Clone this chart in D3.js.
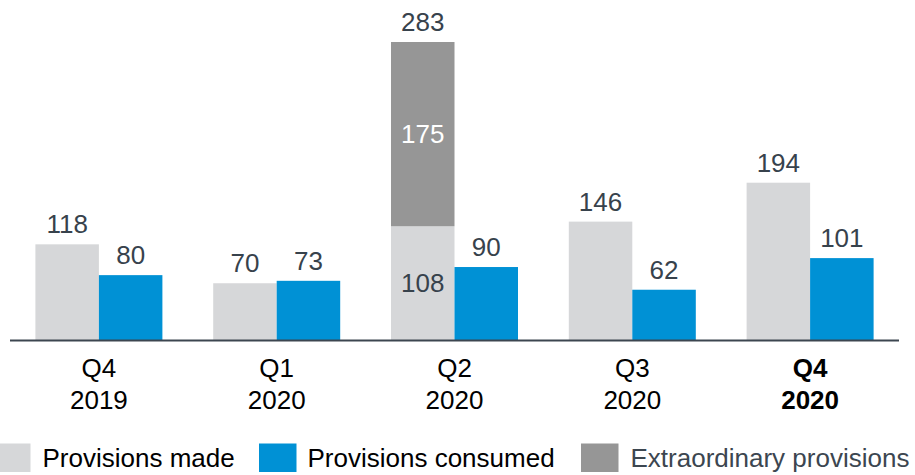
<!DOCTYPE html>
<html>
<head>
<meta charset="utf-8">
<script src="https://cdn.jsdelivr.net/npm/d3@7"></script>
<style>
  html, body { margin: 0; padding: 0; background: #fff; }
  svg { display: block; font-family: "Liberation Sans", Arial, sans-serif; }
</style>
</head>
<body>
<svg id="chart" width="915" height="475"></svg>
<script>
// ---- data ----
const quarters = ["Q4", "Q1", "Q2", "Q3", "Q4"];
const years = ["2019", "2020", "2020", "2020", "2020"];
const boldCategory = [false, false, false, false, true];
const provisionsMade = [118, 70, 108, 146, 194];
const provisionsConsumed = [80, 73, 90, 62, 101];
const extraordinaryProvisions = [0, 0, 175, 0, 0];
const seriesNames = ["Provisions made", "Provisions consumed", "Extraordinary provisions"];

// ---- layout ----
const baseline = 340;
const colors = { made: "#d6d7d9", consumed: "#0091d5", extra: "#969696" };
const labelColor = "#37424c";

const svg = d3.select("#chart");

const x = d3.scaleBand().domain(d3.range(quarters.length)).range([10, 899]);
const sub = d3.scaleBand().domain(["made", "consumed"]).range([0, 127]);
const groupOffset = (x.bandwidth() - 127) / 2;

// The original draws the Q2 made+extraordinary stack on its own compressed scale.
const y = d3.scaleLinear().domain([0, 370]).range([baseline, baseline - 300]);
const yQ2 = d3.scaleLinear().domain([0, 283]).range([baseline, 42]);
const yMadeFor = i => (extraordinaryProvisions[i] > 0 ? yQ2 : y);

const g = svg.append("g");

function label(xp, yp, txt, fill, dy) {
  g.append("text").attr("x", xp).attr("y", yp).attr("dy", dy || null)
    .attr("text-anchor", "middle").attr("font-size", 26).attr("fill", fill).text(txt);
}

quarters.forEach((q, i) => {
  const ys = yMadeFor(i);
  const gx = x(i) + groupOffset;
  const made = provisionsMade[i], cons = provisionsConsumed[i], extra = extraordinaryProvisions[i];

  g.append("rect")
    .attr("x", gx + sub("made")).attr("width", sub.bandwidth())
    .attr("y", ys(made)).attr("height", ys(0) - ys(made))
    .attr("fill", colors.made);
  if (extra > 0) {
    g.append("rect")
      .attr("x", gx + sub("made")).attr("width", sub.bandwidth())
      .attr("y", ys(made + extra)).attr("height", ys(made) - ys(made + extra))
      .attr("fill", colors.extra);
  }
  g.append("rect")
    .attr("x", gx + sub("consumed")).attr("width", sub.bandwidth())
    .attr("y", y(cons)).attr("height", y(0) - y(cons))
    .attr("fill", colors.consumed);

  const cMade = gx + sub("made") + sub.bandwidth() / 2;
  const cCons = gx + sub("consumed") + sub.bandwidth() / 2;

  if (extra > 0) {
    label(cMade, ys(made + extra) - 11, made + extra, labelColor);
    label(cMade, (ys(made + extra) + ys(made)) / 2, extra, "#fff", "0.35em");
    label(cMade, (ys(made) + ys(0)) / 2, made, labelColor, "0.35em");
  } else {
    label(cMade, ys(made) - 11, made, labelColor);
  }
  label(cCons, y(cons) - 11, cons, labelColor);

  const cx = x(i) + x.bandwidth() / 2;
  const t = g.append("text").attr("text-anchor", "middle").attr("font-size", 26)
    .attr("fill", "#000").attr("font-weight", boldCategory[i] ? "bold" : "normal");
  t.append("tspan").attr("x", cx).attr("y", 377).text(q);
  t.append("tspan").attr("x", cx).attr("y", 408.5).text(years[i]);
});

svg.append("line").attr("x1", 10).attr("x2", 899).attr("y1", baseline + 0.5).attr("y2", baseline + 0.5)
  .attr("stroke", "#3c4650").attr("stroke-width", 2);

const legend = [
  { name: seriesNames[0], color: colors.made, sx: -7, tx: 42.5, tc: "#000" },
  { name: seriesNames[1], color: colors.consumed, sx: 259, tx: 307.5, tc: "#000" },
  { name: seriesNames[2], color: colors.extra, sx: 581, tx: 630.5, tc: "#3c4650" }
];
const lg = svg.append("g");
legend.forEach(d => {
  lg.append("rect").attr("x", d.sx).attr("y", 443.5).attr("width", 37.5).attr("height", 28.5).attr("fill", d.color);
  lg.append("text").attr("x", d.tx).attr("y", 467).attr("font-size", 26).attr("fill", d.tc).text(d.name);
});
</script>
</body>
</html>
